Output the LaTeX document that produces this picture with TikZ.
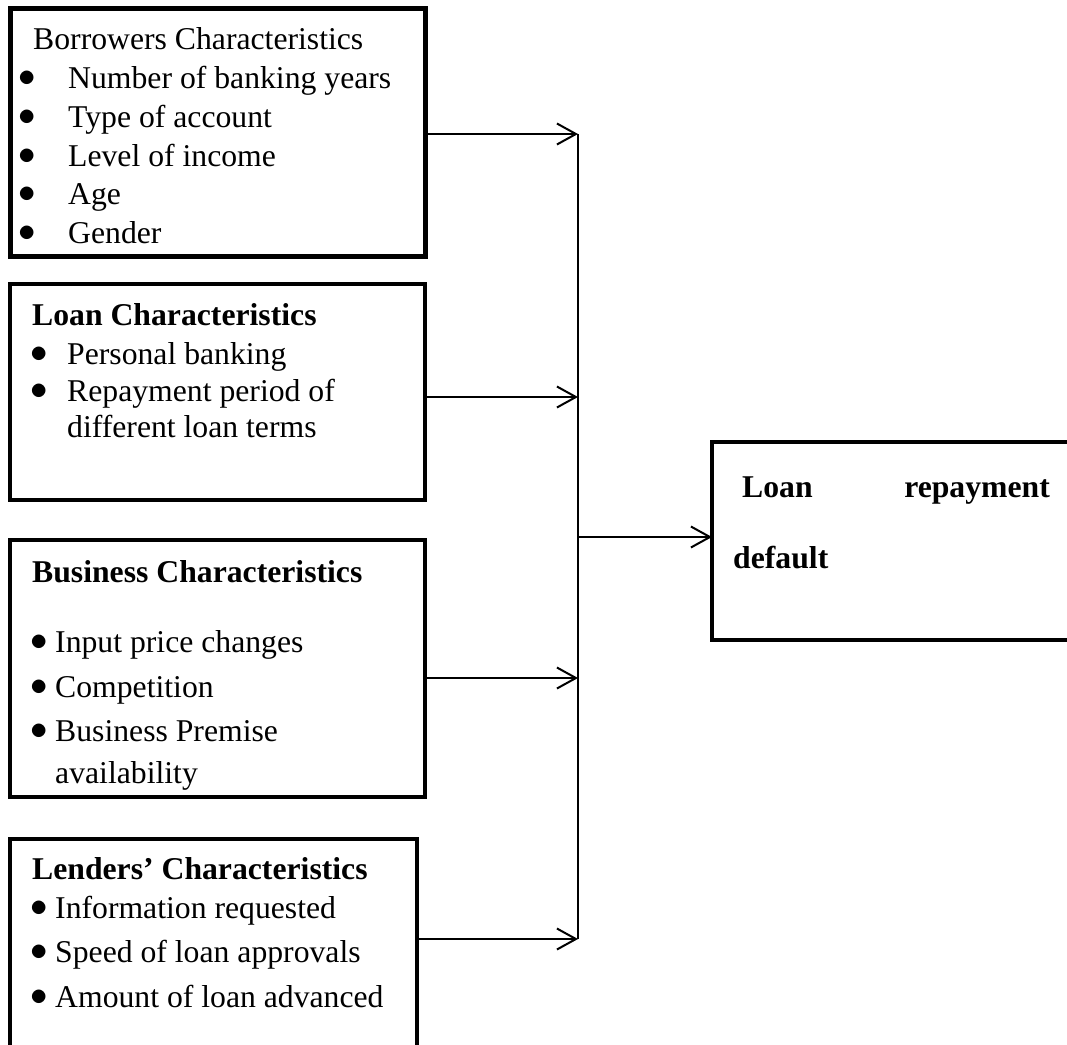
\documentclass[tikz,border=0pt]{standalone}
\usepackage{fontspec}
\setmainfont{Liberation Serif}
\usepackage{tikz}
\usetikzlibrary{positioning, arrows.meta}

\tikzset{
  charbox/.style={draw, line width=4pt, inner sep=0pt, outer sep=0pt, anchor=north west},
  wire/.style={line width=2pt},
  conn/.style={line width=2pt, -{Straight Barb[length=19pt, width=21pt]}},
  txt/.style={anchor=base west, inner sep=0pt, font=\fontsize{31.7}{38}\selectfont},
  bold/.style={txt, font=\fontsize{31.7}{38}\selectfont\bfseries},
}
\newcommand{\itemdot}{\raisebox{1.5pt}{\scalebox{1.4}{$\bullet$}}}

\begin{document}
\begin{tikzpicture}[x=1pt, y=-1pt]
        \clip (0,0) rectangle (1067,1044);
        % boxes
        \node[charbox, line width=5pt, minimum width=415pt, minimum height=248pt] (borrow) at (10,8) {};
        \node[charbox, minimum width=415pt, minimum height=216pt] (loanc) at (10,284) {};
        \node[charbox, minimum width=415pt, minimum height=257pt] (busin) at (10,540) {};
        \node[charbox, minimum width=407pt, minimum height=260pt] (lend) at (10,839) {};
        \node[charbox, minimum width=420pt, minimum height=198pt] (repay) at (712,442) {};
        % titles
        \node[txt] (borrowT) at (33,49) {Borrowers Characteristics};
        \node[bold] (loancT) at (32,325) {Loan Characteristics};
        \node[bold] (businT) at (32,582) {Business Characteristics};
        \node[bold] (lendT) at (32,879) {Lenders’ Characteristics};
        \node[bold] (repayA) at (742,497) {Loan};
        \node[bold, anchor=base east] (repayB) at (1050,497) {repayment};
        \node[bold] (repayC) at (733,568) {default};
        % items
        \foreach \yy/\txt [count=\i] in {88/Number of banking years, 127/Type of account,
            166/Level of income, 204/Age, 243/Gender} {
            \node[txt] (bb\i) at (18,\yy) {\itemdot};
            \node[txt] (b\i) at (68,\yy) {\txt};
        }
        \foreach \yy/\txt [count=\i] in {364/Personal banking, 401/Repayment period of} {
            \node[txt] (lb\i) at (30,\yy) {\itemdot};
            \node[txt] (l\i) at (67,\yy) {\txt};
        }
        \node[txt] (l3) at (67,437) {different loan terms};
        \foreach \yy/\txt [count=\i] in {652/Input price changes, 697/Competition,
            741/Business Premise} {
            \node[txt] (sb\i) at (30,\yy) {\itemdot};
            \node[txt] (s\i) at (55,\yy) {\txt};
        }
        \node[txt] (s4) at (55,783) {availability};
        \foreach \yy/\txt [count=\i] in {918/Information requested, 962/Speed of loan approvals,
            1007/Amount of loan advanced} {
            \node[txt] (db\i) at (30,\yy) {\itemdot};
            \node[txt] (d\i) at (55,\yy) {\txt};
        }
        % connectors
        \coordinate (j1) at (578,134); \coordinate (j2) at (578,397);
        \coordinate (j3) at (578,678); \coordinate (j4) at (578,939);
        \coordinate (jo) at (578,537);
        \draw[wire] (j1) -- (j4);
        \draw[conn] (borrow.east |- j1) -- (j1);
        \draw[conn] (loanc.east |- j2) -- (j2);
        \draw[conn] (busin.east |- j3) -- (j3);
        \draw[conn] (lend.east |- j4) -- (j4);
        \draw[conn] (jo) -- (repay.west |- jo);
    \end{tikzpicture}
\end{document}
